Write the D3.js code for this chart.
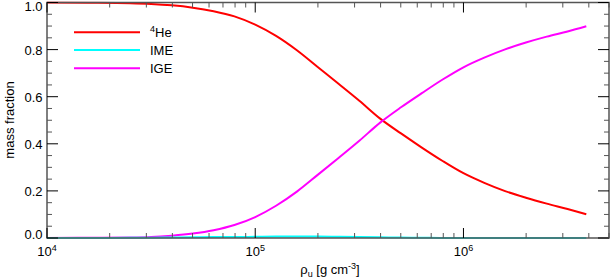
<!DOCTYPE html>
<html><head><meta charset="utf-8">
<script src="https://cdn.jsdelivr.net/npm/d3@7"></script>
<style>body{margin:0;background:#fff}svg{display:block}text{font-family:"Liberation Sans",Arial,sans-serif}</style>
</head><body>
<svg id="c" width="610" height="278"></svg>
<script>
const density = [1e4,1.585e4,2.512e4,3.162e4,3.981e4,5.012e4,6.31e4,7.943e4,1e5,1.259e5,1.585e5,1.995e5,2.512e5,3.162e5,3.981e5,5.012e5,6.31e5,7.943e5,1e6,1.259e6,1.585e6,1.995e6,2.512e6,3.162e6,3.89e6];
const he4 = [1.000,0.999,0.997,0.994,0.988,0.978,0.963,0.941,0.906,0.858,0.797,0.726,0.655,0.583,0.507,0.444,0.384,0.327,0.275,0.234,0.199,0.171,0.146,0.123,0.101];
const ime = [0,0,0.001,0.001,0.002,0.003,0.004,0.004,0.005,0.006,0.006,0.006,0.005,0.004,0.003,0.002,0.001,0,0,0,0,0,0,0,0];
const ige = [0,0.001,0.002,0.004,0.010,0.019,0.033,0.055,0.089,0.137,0.197,0.268,0.340,0.413,0.490,0.555,0.615,0.673,0.725,0.766,0.801,0.830,0.855,0.877,0.899];
const seriesNames = ["⁴He","IME","IGE"];
const yTicks = [0,0.2,0.4,0.6,0.8,1.0];
const xTicks = [1e4,1e5,1e6];

const svg = d3.select("#c");
const L=47,R=609,T=2.5,B=238;
const x = d3.scaleLog().domain([1e4,5e6]).range([L,R]);
const y = d3.scaleLinear().domain([0,1]).range([B,T]);

const series = [
 {vals:he4,color:"#ff0000"},
 {vals:ime,color:"#00ffff"},
 {vals:ige,color:"#ff00ff"}
];
const line = d3.line().x(d=>x(d[0])).y(d=>y(d[1])).curve(d3.curveMonotoneX);
svg.append("clipPath").attr("id","cp").append("rect").attr("x",L).attr("y",T-1).attr("width",R-L).attr("height",B-T+2);
[series[0],series[2],series[1]].forEach(s=>{
  svg.append("path").attr("clip-path","url(#cp)")
    .datum(density.map((d,i)=>[d,s.vals[i]]))
    .attr("d",line).attr("fill","none").attr("stroke",s.color).attr("stroke-width",2);
});

const fc="#555";
svg.append("rect").attr("x",L).attr("y",T).attr("width",R-L).attr("height",B-T)
  .attr("fill","none").attr("stroke",fc).attr("stroke-width",1.5);

const yMinor = d3.range(0,1.0001,0.05);
yMinor.forEach(v=>{
  const major = yTicks.some(t=>Math.abs(t-v)<1e-6);
  const len = major?11:5;
  const yy=y(v);
  svg.append("line").attr("x1",L).attr("x2",L+len).attr("y1",yy).attr("y2",yy).attr("stroke",major?"#000":fc).attr("stroke-width",1);
  svg.append("line").attr("x1",R).attr("x2",R-len).attr("y1",yy).attr("y2",yy).attr("stroke",major?"#000":fc).attr("stroke-width",1);
});
yTicks.forEach(v=>{
  let yy=y(v)+5;
  if(v===1) yy=y(v)+8.5;
  if(v===0) yy=y(v)+1;
  svg.append("text").attr("x",42.5).attr("y",yy).attr("text-anchor","end").attr("font-size",13).attr("fill","#000").text(d3.format(".1f")(v));
});

const xMinor=[];
[1e4,1e5,1e6].forEach(dec=>{for(let k=1;k<10;k++){const v=dec*k; if(v<=5e6) xMinor.push(v);}});
xMinor.forEach(v=>{
  const major = xTicks.includes(v);
  const len = major?10:5;
  const xx=x(v);
  svg.append("line").attr("x1",xx).attr("x2",xx).attr("y1",B).attr("y2",B-len).attr("stroke",major?"#000":fc).attr("stroke-width",1);
  svg.append("line").attr("x1",xx).attr("x2",xx).attr("y1",T).attr("y2",T+len).attr("stroke",major?"#000":fc).attr("stroke-width",1);
});
xTicks.forEach(v=>{
  const t = svg.append("text").attr("x",x(v)).attr("y",256).attr("text-anchor","middle").attr("font-size",13).attr("fill","#000");
  t.append("tspan").text("10");
  t.append("tspan").attr("font-size",9).attr("dy",-5).text(String(Math.round(Math.log10(v))));
});

const xt = svg.append("text").attr("x",330).attr("y",274).attr("text-anchor","middle").attr("font-size",13).attr("fill","#000");
xt.append("tspan").text("ρ");
xt.append("tspan").attr("font-size",9).attr("dy",3).text("u");
xt.append("tspan").attr("dy",-3).text(" [g cm");
xt.append("tspan").attr("font-size",9).attr("dy",-5).text("-3");
xt.append("tspan").attr("dy",5).text("]");

svg.append("text").attr("transform","translate(14,120) rotate(-90)").attr("text-anchor","middle").attr("font-size",13).attr("fill","#000").text("mass fraction");

const legY=[32.3,50,68.3];
series.forEach((s,i)=>{
  svg.append("line").attr("x1",74).attr("x2",140).attr("y1",legY[i]).attr("y2",legY[i]).attr("stroke",s.color).attr("stroke-width",2);
});
const lt0 = svg.append("text").attr("x",150).attr("y",legY[0]+5).attr("font-size",13).attr("fill","#000");
lt0.append("tspan").attr("font-size",9).attr("dy",-5).text("4");
lt0.append("tspan").attr("dy",5).text("He");
[1,2].forEach(i=>{
  svg.append("text").attr("x",150).attr("y",legY[i]+5).attr("font-size",13).attr("fill","#000").text(seriesNames[i]);
});
</script>
</body></html>
